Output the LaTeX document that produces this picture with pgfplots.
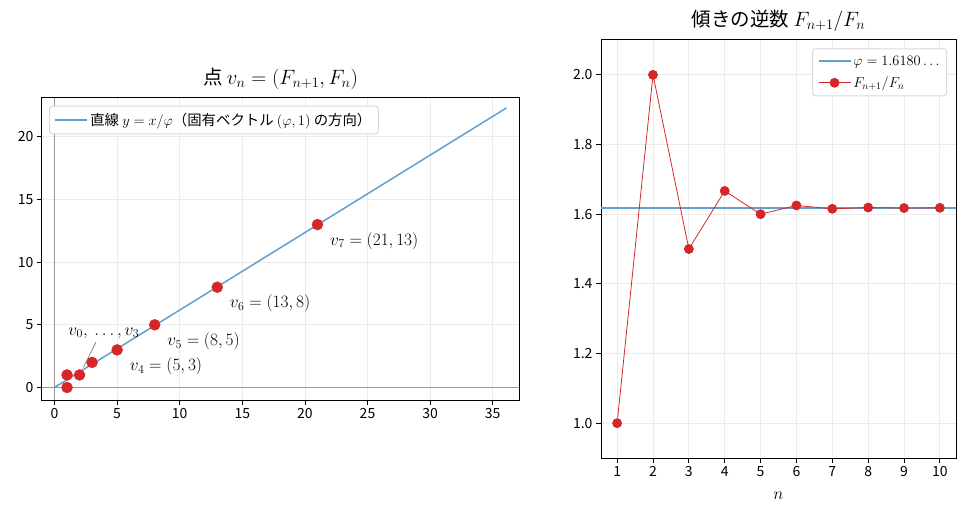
\documentclass[border=0pt]{standalone}
\usepackage{pgfplots}
\pgfplotsset{compat=1.18}
\usepackage{fontspec}
\setmainfont{Noto Sans CJK JP}
\definecolor{lineblue}{RGB}{98,160,205}
\definecolor{dotred}{RGB}{214,39,40}
\definecolor{gridgray}{RGB}{235,235,235}
\newcommand{\legfont}{\fontsize{14.4}{17}\selectfont}
\pgfplotsset{
  base/.style={
    scale only axis, anchor=south west,
    grid=major, grid style={gridgray, line width=0.8pt},
    tick align=outside, tick pos=left, major tick length=5pt,
    every tick/.style={black, line width=0.8pt},
    axis line style={line width=1pt},
    tick label style={font=\fontsize{14}{16}\selectfont},
    /pgf/number format/assume math mode=true,
    legend style={rounded corners=3pt,
      draw=gray!30, line width=1pt, fill=white,
      inner sep=5pt, row sep=6pt, nodes={inner sep=2pt}},
    legend cell align=left,
    title style={font=\fontsize{19.5}{21}\selectfont},
  },
  blueimg/.style={legend image code/.code={
    \draw[draw=lineblue, line width=1.6pt] (0pt,0pt) -- (32pt,0pt);}},
  redimg/.style={legend image code/.code={
    \draw[draw=dotred, line width=0.9pt] (0pt,0pt) -- (32pt,0pt);
    \fill[dotred] (16pt,0pt) circle (4.5pt);}},
}
\begin{document}
\begin{tikzpicture}[x=1pt,y=1pt]
\useasboundingbox (0,0) rectangle (967,520);
% left: points v_n
\begin{axis}[base, at={(42pt,120pt)}, width=477pt, height=302pt,
  xmin=-1, xmax=37.1, ymin=-1, ymax=23.1,
  xtick={0,5,...,35}, ytick={0,5,...,20},
  title={点 $v_n=(F_{n+1},F_n)$}, title style={yshift=-1pt},
  legend style={at={(0.015,0.975)}, anchor=north west}]
\addplot[gray!80, line width=0.8pt, forget plot] coordinates {(-1,0) (37.1,0)};
\addplot[gray!80, line width=0.8pt, forget plot] coordinates {(0,-1) (0,23.1)};
\addplot[lineblue, line width=1.5pt, blueimg] coordinates {(0,0) (36.1,22.31)};
\addlegendentry{\legfont 直線 $y=x/\varphi$（固有ベクトル $(\varphi,1)$ の方向）}
\addplot[only marks, mark=*, mark size=5.5pt, color=dotred, forget plot] coordinates {
  (1,0) (1,1) (2,1) (3,2) (5,3) (8,5) (13,8) (21,13)};
\draw[gray, line width=0.7pt] (axis cs:3.3,3.6) -- (axis cs:2.3,1.6);
\node[anchor=south west, font=\fontsize{17}{19}\selectfont, inner sep=0pt] at (axis cs:1.1,3.9) {$v_0,\ \ldots,v_3$};
\node[anchor=west, font=\fontsize{17}{19}\selectfont, inner sep=0pt] at (axis cs:6.0,1.7) {$v_4=(5,3)$};
\node[anchor=west, font=\fontsize{17}{19}\selectfont, inner sep=0pt] at (axis cs:9.0,3.7) {$v_5=(8,5)$};
\node[anchor=west, font=\fontsize{17}{19}\selectfont, inner sep=0pt] at (axis cs:14.0,6.7) {$v_6=(13,8)$};
\node[anchor=west, font=\fontsize{17}{19}\selectfont, inner sep=0pt] at (axis cs:22.0,11.7) {$v_7=(21,13)$};
\end{axis}
% right: ratio
\begin{axis}[base, at={(601pt,62pt)}, width=355pt, height=418pt,
  xmin=0.55, xmax=10.45, ymin=0.9, ymax=2.1,
  xtick={1,...,10}, ytick={1.0,1.2,...,2.0},
  yticklabel style={/pgf/number format/.cd, fixed, fixed zerofill, precision=1},
  xlabel={$n$}, xlabel style={font=\fontsize{16}{18}\selectfont, yshift=-8pt},
  title={傾きの逆数 $F_{n+1}/F_n$}, title style={yshift=-1pt},
  legend style={at={(0.975,0.98)}, anchor=north east}]
\addplot[color=lineblue, line width=1.3pt, blueimg] coordinates {(0.55,1.6180) (10.45,1.6180)};
\addlegendentry{\legfont $\varphi=1.6180\ldots$}
\addplot[color=dotred, line width=0.8pt, mark=*, mark size=4.5pt, mark options={fill=dotred}, redimg] coordinates {
  (1,1) (2,2) (3,1.5) (4,1.6667) (5,1.6) (6,1.625) (7,1.6154) (8,1.6190) (9,1.6176) (10,1.6182)};
\addlegendentry{\legfont $F_{n+1}/F_n$}
\end{axis}
\end{tikzpicture}
\end{document}
